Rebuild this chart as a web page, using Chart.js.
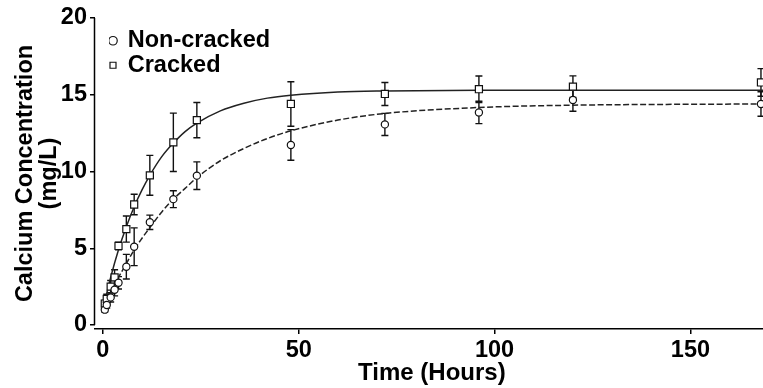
<!DOCTYPE html>
<html>
<head>
<meta charset="utf-8">
<script src="https://cdn.jsdelivr.net/npm/chart.js@4"></script>
<style>
html, body { margin: 0; padding: 0; background: #fff; overflow: hidden; }
#wrap { width: 775px; height: 388px; }
</style>
</head>
<body>
<div id="wrap"><canvas id="myChart" width="775" height="388"></canvas></div>
<script>
// 측정 시간 (h)
var times = [0.5, 1, 2, 3, 4, 6, 8, 12, 18, 24, 48, 72, 96, 120, 168];
// 평균값 / 오차
var crackedMean = [1.4, 1.7, 2.5, 3.1, 5.15, 6.25, 7.85, 9.75, 11.9, 13.35, 14.4, 15.05, 15.36, 15.53, 15.8];
var crackedErr = [0.2, 0.3, 0.4, 0.5, 0.25, 0.85, 0.67, 1.3, 1.9, 1.15, 1.45, 0.75, 0.86, 0.7, 0.9];
var nonCrackedMean = [1.0, 1.3, 1.8, 2.3, 2.75, 3.8, 5.1, 6.69, 8.2, 9.73, 11.73, 13.07, 13.85, 14.66, 14.4];
var nonCrackedErr = [0.15, 0.2, 0.3, 0.4, 0.4, 0.8, 1.23, 0.47, 0.55, 0.9, 1.0, 0.72, 0.73, 0.73, 0.8];
// 피팅 곡선
var fitTimes = [0, 2, 4, 6, 8, 10, 12, 15, 18, 21, 24, 30, 36, 42, 48, 60, 72, 96, 120, 150, 175];
var crackedFit = [1.0, 3.1, 4.9, 6.4, 7.7, 8.8, 9.75, 10.95, 11.85, 12.6, 13.15, 13.95, 14.45, 14.78, 14.97, 15.18, 15.25, 15.3, 15.3, 15.3, 15.3];
var nonCrackedFit = [1.0, 2.1, 3.1, 4.0, 4.9, 5.65, 6.35, 7.35, 8.2, 8.9, 9.6, 10.7, 11.5, 12.15, 12.65, 13.35, 13.78, 14.17, 14.32, 14.38, 14.4];
// 축 눈금
var xTicks = [0, 50, 100, 150];
var yTicks = [0, 5, 10, 15, 20];

function toPoints(xs, ys){
    var out = [];
    for (var i = 0; i < xs.length; i++) {
        out.push({x: xs[i], y: ys[i]});
    }
    return out;
}

var narrowFont = "'Liberation Sans Narrow', 'Arial Narrow', 'Liberation Sans', Arial, sans-serif";
var normalFont = "'Liberation Sans', Arial, sans-serif";

// 오차 막대
var errorBars = {
    id: 'errorBars',
    beforeDatasetsDraw: function(chart){
        var ctx = chart.ctx;
        var xs = chart.scales.x;
        var ys = chart.scales.y;
        var sets = [[nonCrackedMean, nonCrackedErr], [crackedMean, crackedErr]];
        ctx.save();
        ctx.strokeStyle = '#111';
        ctx.lineWidth = 1.4;
        for (var s = 0; s < sets.length; s++) {
            var mean = sets[s][0];
            var err = sets[s][1];
            for (var i = 0; i < times.length; i++) {
                var px = xs.getPixelForValue(times[i]);
                var top = ys.getPixelForValue(mean[i] + err[i]);
                var bot = ys.getPixelForValue(mean[i] - err[i]);
                ctx.beginPath();
                ctx.moveTo(px, top);
                ctx.lineTo(px, bot);
                ctx.moveTo(px - 3.5, top);
                ctx.lineTo(px + 3.5, top);
                ctx.moveTo(px - 3.5, bot);
                ctx.lineTo(px + 3.5, bot);
                ctx.stroke();
            }
        }
        ctx.restore();
    }
};

// y축 선 (0 ~ 20 까지만)
var yAxisLine = {
    id: 'yAxisLine',
    afterDraw: function(chart){
        var ctx = chart.ctx;
        var ys = chart.scales.y;
        var left = chart.chartArea.left - 0.5;
        ctx.save();
        ctx.strokeStyle = '#000';
        ctx.lineWidth = 1.5;
        ctx.beginPath();
        ctx.moveTo(left, ys.getPixelForValue(yTicks[yTicks.length - 1]));
        ctx.lineTo(left, ys.getPixelForValue(yTicks[0]));
        ctx.stroke();
        ctx.restore();
    }
};

// 범례 위치 조정
var legendShift = {
    id: 'legendShift',
    afterLayout: function(chart){
        if (chart.legend) {
            chart.legend.left = chart.chartArea.left + 14;
            chart.legend.top = chart.chartArea.top + 10;
        }
    }
};

var ctx = document.getElementById('myChart').getContext('2d');
var myChart = new Chart(ctx, {
    type: 'scatter',
    data: {
        datasets: [{
            label: 'Non-cracked',
            data: toPoints(times, nonCrackedMean),
            pointStyle: 'circle',
            pointRadius: 3.6,
            pointBorderWidth: 1.2,
            pointBackgroundColor: '#fff',
            pointBorderColor: '#111',
            backgroundColor: '#fff',
            borderColor: '#111',
            order: 0
        }, {
            label: 'Cracked',
            data: toPoints(times, crackedMean),
            pointStyle: 'rect',
            pointRadius: 5,
            pointBorderWidth: 1.2,
            pointBackgroundColor: '#fff',
            pointBorderColor: '#111',
            backgroundColor: '#fff',
            borderColor: '#111',
            order: 0
        }, {
            label: 'fit-noncracked',
            data: toPoints(fitTimes, nonCrackedFit),
            showLine: true,
            pointRadius: 0,
            borderColor: '#222',
            borderWidth: 1.5,
            borderDash: [6, 2.5],
            cubicInterpolationMode: 'monotone',
            order: 1
        }, {
            label: 'fit-cracked',
            data: toPoints(fitTimes, crackedFit),
            showLine: true,
            pointRadius: 0,
            borderColor: '#222',
            borderWidth: 1.5,
            cubicInterpolationMode: 'monotone',
            order: 1
        }]
    },
    options: {
        responsive: false,
        animation: false,
        devicePixelRatio: 1,
        layout: { padding: { left: 0, right: 0, top: 18, bottom: 0 } },
        plugins: {
            tooltip: { enabled: false },
            legend: {
                position: 'chartArea',
                align: 'start',
                labels: {
                    usePointStyle: true,
                    boxWidth: 6,
                    boxHeight: 6,
                    padding: 1,
                    color: '#000',
                    font: { family: normalFont, size: 23.5, weight: 'bold' },
                    filter: function(item){ return item.text.indexOf('fit') !== 0; }
                }
            }
        },
        scales: {
            x: {
                type: 'linear',
                min: -2,
                max: 170,
                afterBuildTicks: function(scale){
                    scale.ticks = xTicks.map(function(v){ return {value: v}; });
                },
                afterFit: function(scale){ scale.height = 59; },
                grid: { drawOnChartArea: false, drawTicks: true, tickLength: 5, color: '#000', lineWidth: 1.5 },
                border: { display: true, color: '#000', width: 1.5 },
                ticks: { color: '#000', padding: 2, maxRotation: 0, font: { family: narrowFont, size: 23.5, weight: 'bold' } },
                title: { display: true, text: 'Time (Hours)', color: '#000', padding: { top: 0, bottom: 0 }, font: { family: narrowFont, size: 24, weight: 'bold' } }
            },
            y: {
                type: 'linear',
                min: -0.26,
                max: 20,
                afterBuildTicks: function(scale){
                    scale.ticks = yTicks.map(function(v){ return {value: v}; });
                },
                afterFit: function(scale){ scale.width = 95; },
                grid: { drawOnChartArea: false, drawTicks: true, tickLength: 5, color: '#000', lineWidth: 1.5 },
                border: { display: false },
                ticks: { color: '#000', padding: 3, font: { family: narrowFont, size: 23.5, weight: 'bold' } },
                title: { display: true, text: ['Calcium Concentration', '(mg/L)'], color: '#000', padding: { top: 13, bottom: 0 }, font: { family: normalFont, size: 23.5, weight: 'bold', lineHeight: 1.03 } }
            }
        }
    },
    plugins: [errorBars, yAxisLine, legendShift]
});
</script>
</body>
</html>
